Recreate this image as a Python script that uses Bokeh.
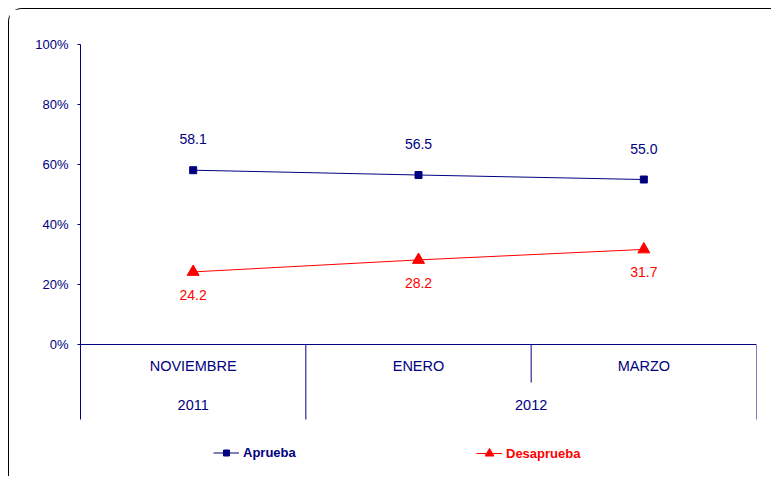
from bokeh.plotting import figure
from bokeh.models import (FactorRange, Range1d, FixedTicker, PrintfTickFormatter,
                          Span, Legend, LegendItem, ColumnDataSource)
from bokeh.embed import file_html
from bokeh.resources import INLINE
from bokeh.core.properties import value

# ---- data ----
years = ["2011", "2012", "2012"]
months = ["NOVIEMBRE", "ENERO", "MARZO"]
aprueba = [58.1, 56.5, 55.0]
desaprueba = [24.2, 28.2, 31.7]
y_ticks = [0, 20, 40, 60, 80, 100]

NAVY = "#000080"
RED = "#FF0000"
FONT = "Liberation Sans"

factors = list(zip(years, months))
year_groups = list(dict.fromkeys(years))

x_range = FactorRange(*factors, group_padding=0, factor_padding=0,
                      subgroup_padding=0, range_padding=0)

p = figure(width=763, height=468, x_range=x_range, y_range=Range1d(-42, 100),
           output_backend="svg", toolbar_location=None, x_axis_location=None,
           min_border_left=71, min_border_right=16, min_border_top=35,
           min_border_bottom=7)
p.styles = {"margin": "8px 0 0 8px",
            "border-top": "1px solid #000", "border-left": "1px solid #000",
            "border-top-left-radius": "14px"}
p.outline_line_color = None
p.grid.visible = False
p.background_fill_color = "white"
p.border_fill_color = "white"

ax = p.yaxis[0]
ax.ticker = FixedTicker(ticks=y_ticks)
ax.formatter = PrintfTickFormatter(format="%d%%")
ax.bounds = (-25, 100)
ax.axis_line_color = NAVY
ax.major_tick_line_color = NAVY
ax.major_tick_out = 3
ax.major_tick_in = 0
ax.minor_tick_line_color = None
ax.major_label_text_color = NAVY
ax.major_label_text_font = FONT
ax.major_label_text_font_size = "13px"
ax.major_label_standoff = 9

# category baseline
p.add_layout(Span(location=0, dimension="width", line_color=NAVY, line_width=1))

# separators below the baseline
sep_x, sep_y1 = [], []
for i, (yr, mo) in enumerate(factors):
    last = i == len(factors) - 1
    full = last or factors[i + 1][0] != yr
    sep_x.append((yr, mo, 0.5))
    sep_y1.append(-25 if full else -12.7)
p.segment(x0=sep_x, x1=sep_x, y0=[0] * len(sep_x), y1=sep_y1,
          line_color=NAVY, line_width=1)

# category labels
p.text(x=factors, y=[-7.3] * len(factors), text=months, text_align="center",
       text_baseline="middle", text_color=NAVY, text_font=value(FONT),
       text_font_size=value("14.5px"))
p.text(x=year_groups, y=[-20] * len(year_groups), text=year_groups,
       text_align="center", text_baseline="middle", text_color=NAVY,
       text_font=value(FONT), text_font_size=value("14.5px"))

src = ColumnDataSource(dict(x=factors, a=aprueba, d=desaprueba,
                            al=[f"{v:.1f}" for v in aprueba],
                            dl=[f"{v:.1f}" for v in desaprueba]))

l1 = p.line("x", "a", source=src, line_color=NAVY, line_width=1)
s1 = p.scatter("x", "a", source=src, marker="square", size=7,
               fill_color=NAVY, line_color=NAVY)
l2 = p.line("x", "d", source=src, line_color=RED, line_width=1)
s2 = p.scatter("x", "d", source=src, marker="triangle", size=12,
               fill_color=RED, line_color=RED)

p.text("x", "a", text="al", source=src, text_align="center",
       text_baseline="middle", y_offset=-31, text_color=NAVY,
       text_font=value(FONT), text_font_size=value("14px"))
p.text("x", "d", text="dl", source=src, text_align="center",
       text_baseline="middle", y_offset=23, text_color=RED,
       text_font=value(FONT), text_font_size=value("14px"))


def make_legend(label, rends, color, loc, gh):
    lg = Legend(items=[LegendItem(label=label, renderers=rends)], location=loc,
                orientation="horizontal", background_fill_alpha=0,
                border_line_color=None, padding=0, margin=0, spacing=0,
                glyph_width=26, glyph_height=gh, label_height=14,
                label_standoff=4, label_text_font=FONT,
                label_text_font_size="13px", label_text_font_style="bold",
                label_text_color=color)
    p.add_layout(lg)


make_legend("Aprueba", [l1, s1], NAVY, (133, 10), 15)
make_legend("Desaprueba", [l2, s2], RED, (396, 6), 22)

open("out.html", "w").write(file_html(p, INLINE))
